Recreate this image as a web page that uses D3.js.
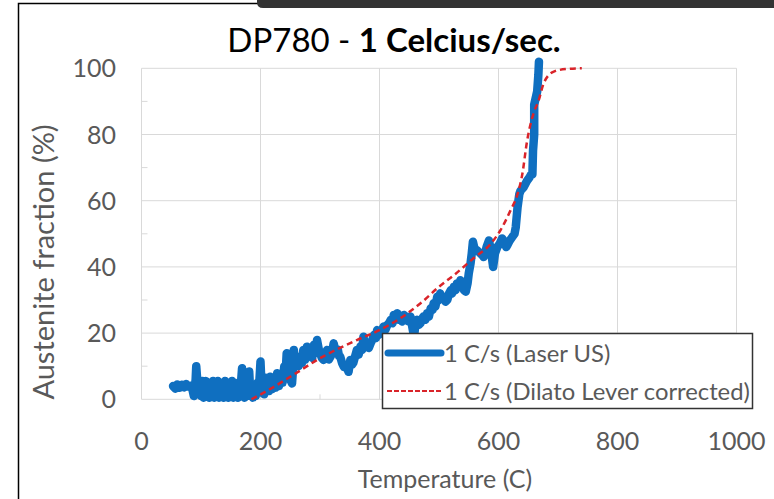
<!DOCTYPE html>
<html>
<head>
<meta charset="utf-8">
<script src="https://cdn.jsdelivr.net/npm/d3@7"></script>
<style>
  html, body { margin: 0; padding: 0; background: #fff; }
  svg text { font-family: Lato, "Open Sans", sans-serif; }
</style>
</head>
<body>
<svg id="svg" width="774" height="499"></svg>
<script>
// ---- data ----
var xTicks = [0, 200, 400, 600, 800, 1000];
var yTicks = [0, 20, 40, 60, 80, 100];
var xMinor = [100, 300, 500, 700, 900];
var yMinor = [10, 30, 50, 70, 90];

// 1 C/s (Laser US) : [temperature, austenite %]
var laserUS = [
  [53,4],[57,3.2],[60,4.5],[64,3.5],[68,4.4],[72,3.6],[75,4.6],[80,3.8],[84,4.2],[88,1],
  [91,6],[92,10],[94,5],[96,1.5],[98,5],[100,1],[102,5.5],[104,0.5],[106,4],[108,5.5],
  [110,1],[112,4.5],[114,0.5],[116,5],[118,1],[120,5.5],[122,0.5],[124,4.5],[126,1.5],[128,5.5],
  [130,0.5],[132,5],[134,1],[136,4.5],[138,0.5],[140,5.5],[142,1],[144,5],[146,0.5],[148,4.5],
  [150,1],[152,5.5],[154,0.5],[156,5],[158,1],[160,4.5],[162,0.5],[164,5],[166,2],[169,9.4],
  [171,2],[173,0.5],[175,5],[177,1],[179,6],[181,8.4],[183,1],[185,3],[187,0.5],[190,4.5],
  [192,1],[195,5],[197,2],[200,11.4],[202,3],[204,6],[206,1.5],[208,6.5],[210,3],[212,5.5],
  [214,2.5],[216,6.8],[219,3],[222,6],[225,3.5],[228,7.9],[231,4],[234,7],[237,5],[240,10],
  [242,7],[244,13.9],[246,9],[248,12],[250,6],[253,4.8],[255,10],[256,14.9],[258,11],[261,13],
  [264,10],[267,12.9],[270,11],[272,14.9],[275,12],[278,15.9],[281,13],[284,14.5],[287,12.5],[290,16.5],
  [293,14],[295,17.9],[298,15],[300,14],[303,12.5],[306,11.9],[309,14],[312,14.9],[315,12],[318,13],
  [321,15],[323,16.9],[326,14.5],[330,15],[332,13],[334,12.9],[337,11],[340,9.8],[344,10],[348,8.3],
  [351,11.9],[354,10.5],[356,11],[359,13],[362,14.9],[365,13.5],[368,16],[371,15],[373,18.9],[376,16],
  [379,17],[382,15.5],[385,16.9],[388,18],[391,19.5],[394,18.5],[396,20.9],[399,19.5],[401,20.5],[404,21],
  [407,22],[410,21],[413,22.4],[416,23],[419,24],[422,23],[424,25.5],[427,24],[430,26],[433,24],
  [435,24.5],[438,23.5],[441,25.5],[444,24],[446,25],[449,23.5],[452,25],[455,22],[458,18.9],[460,22],
  [463,24],[466,22.5],[469,23],[472,24.5],[474,25],[477,24],[480,26],[483,25],[486,27.5],[489,27],
  [491,29],[494,28],[497,31],[500,30],[502,32],[505,30.5],[508,31],[511,29.5],[514,30],[517,32],
  [520,33],[522,32],[525,34],[528,33],[530,35],[533,34.5],[536,36],[538,35],[540,34],[542,33],
  [545,32.5],[548,35],[550,38],[553,41],[555,44],[557,47.6],[559,46],[561,45],[564,45],[567,44.5],
  [570,44],[573,43.5],[575,43],[578,44.5],[580,46],[582,47],[584,48],[586,46],[588,44],[591,40],
  [594,44],[596,45],[598,46],[602,47],[606,48.6],[610,47.5],[613,46],[615,46.6],[619,48],[623,49],
  [627,50],[629,52],[632,58],[635,62],[637,63],[642,64],[648,66],[652,67],[655,68],[657,68],
  [658,75],[660,80],[660,89],[665,93],[667,98],[668,102]
];

// 1 C/s (Dilato Lever corrected)
var dilato = [
  [185,0],[220,3.5],[250,6.8],[305,12.9],[362,17.9],[401,21],[435,24.5],[469,29],[500,34],
  [525,37.5],[558,42.6],[587,47],[603,51],[620,57],[632,62],[640,68],[648,78],[660,87],
  [667,90],[676,95.5],[693,99],[715,99.8],[740,100]
];

var legendLabels = ["1 C/s (Laser US)", "1 C/s (Dilato Lever corrected)"];

// ---- drawing ----
var svg = d3.select("#svg");

// frame bits around the chart
svg.append("path")
  .attr("d", "M18.5,499 V3.5 H258")
  .attr("fill", "none").attr("stroke", "#000").attr("stroke-width", 1.5);
svg.append("path")
  .attr("d", "M257,0 H774 V8 H263 Q257,8 257,2 Z")
  .attr("fill", "#333");

var x = d3.scaleLinear().domain([0, 1000]).range([141.5, 736.5]);
var y = d3.scaleLinear().domain([0, 100]).range([399.3, 68.3]);

var grid = svg.append("g").attr("stroke", "#d9d9d9").attr("stroke-width", 1);
grid.selectAll(".gx").data(xTicks).enter().append("line")
  .attr("x1", d => x(d)).attr("x2", d => x(d))
  .attr("y1", y(0)).attr("y2", y(100));
grid.selectAll(".gy").data(yTicks).enter().append("line")
  .attr("x1", x(0)).attr("x2", x(1000))
  .attr("y1", d => y(d)).attr("y2", d => y(d));
grid.selectAll(".mx").data(xMinor).enter().append("line")
  .attr("x1", d => x(d)).attr("x2", d => x(d))
  .attr("y1", y(0)).attr("y2", y(0) - 5);
grid.selectAll(".my").data(yMinor).enter().append("line")
  .attr("x1", x(0)).attr("x2", x(0) + 6)
  .attr("y1", d => y(d)).attr("y2", d => y(d));

// tick labels
svg.append("g").selectAll("text").data(yTicks).enter().append("text")
  .attr("x", 116).attr("y", d => y(d) + 9)
  .attr("text-anchor", "end").attr("font-size", 25).attr("fill", "#595959")
  .text(d => d);
svg.append("g").selectAll("text").data(xTicks).enter().append("text")
  .attr("x", d => x(d)).attr("y", 450)
  .attr("text-anchor", "middle").attr("font-size", 25).attr("fill", "#595959")
  .text(d => d);

// axis titles
svg.append("text")
  .attr("transform", "translate(54,262) rotate(-90)")
  .attr("text-anchor", "middle").attr("font-size", 29).attr("fill", "#595959")
  .text("Austenite fraction (%)");
svg.append("text")
  .attr("x", 445).attr("y", 488)
  .attr("text-anchor", "middle").attr("font-size", 25).attr("fill", "#595959")
  .text("Temperature (C)");

// title
var title = svg.append("text")
  .attr("x", 394).attr("y", 52)
  .attr("text-anchor", "middle").attr("font-size", 33).attr("fill", "#000");
title.append("tspan").text("DP780 - ");
title.append("tspan").attr("font-weight", "bold").text("1 Celcius/sec.");

// series
var line = d3.line().x(d => x(d[0])).y(d => y(d[1]));

svg.append("path").datum(laserUS)
  .attr("d", line)
  .attr("fill", "none").attr("stroke", "#0f6fc0").attr("stroke-width", 8.5)
  .attr("stroke-linejoin", "round").attr("stroke-linecap", "round");

svg.append("path").datum(dilato)
  .attr("d", line.curve(d3.curveMonotoneX))
  .attr("fill", "none").attr("stroke", "#d9242a").attr("stroke-width", 2.5)
  .attr("stroke-dasharray", "6,4");

// legend
var lg = svg.append("g");
lg.append("rect")
  .attr("x", 382.5).attr("y", 333.5).attr("width", 370).attr("height", 75)
  .attr("fill", "#fff").attr("stroke", "#333").attr("stroke-width", 1.5);
lg.append("line")
  .attr("x1", 388).attr("x2", 441).attr("y1", 353).attr("y2", 353)
  .attr("stroke", "#0f6fc0").attr("stroke-width", 7).attr("stroke-linecap", "round");
lg.append("line")
  .attr("x1", 387).attr("x2", 441).attr("y1", 391).attr("y2", 391)
  .attr("stroke", "#d9242a").attr("stroke-width", 2).attr("stroke-dasharray", "5,2");
lg.selectAll("text").data(legendLabels).enter().append("text")
  .attr("x", 444).attr("y", (d, i) => 362 + i * 38)
  .attr("font-size", 23.8).attr("fill", "#595959")
  .text(d => d);
</script>
</body>
</html>
